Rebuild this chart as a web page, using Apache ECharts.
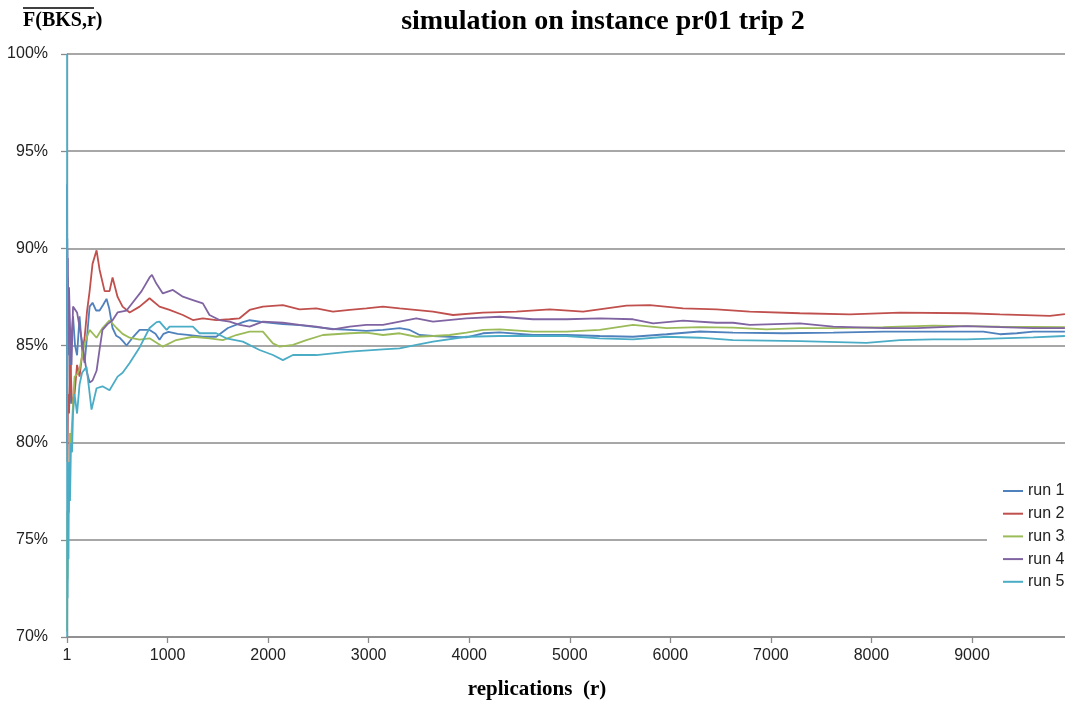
<!DOCTYPE html>
<html>
<head>
<meta charset="utf-8">
<title>simulation on instance pr01 trip 2</title>
<script src="https://cdn.jsdelivr.net/npm/echarts@6/dist/echarts.min.js"></script>
<style>
  html, body { margin: 0; padding: 0; background: #fff; }
  #main { width: 1065px; height: 703px; }
</style>
</head>
<body>
<div id="main"></div>
<script>
// running average F(BKS,r), [replication, percent]
var run1 = [[1,93.3],[2,86],[3,90.5],[5,85.5],[8,88.5],[12,84.5],[20,87],[30,82],[45,85.5],[60,86.5],[80,85],[100,84.5],[125,86.5],[150,84.8],[175,84.1],[200,85.5],[225,87.0],[254,87.2],[290,86.8],[324,86.8],[360,87.1],[393,87.4],[420,86.9],[453,85.9],[490,85.5],[523,85.4],[560,85.2],[592,85.0],[652,85.4],[722,85.8],[821,85.8],[880,85.6],[920,85.3],[960,85.6],[1010,85.7],[1100,85.6],[1200,85.55],[1350,85.45],[1484,85.45],[1600,85.9],[1750,86.2],[1816,86.3],[1950,86.2],[2147,86.1],[2313,86.05],[2479,85.95],[2645,85.85],[2811,85.8],[2977,85.75],[3142,85.8],[3308,85.89],[3408,85.8],[3507,85.54],[3640,85.49],[3806,85.45],[3972,85.42],[4137,85.63],[4303,85.68],[4634,85.54],[4967,85.54],[5298,85.49],[5629,85.45],[5962,85.58],[6293,85.72],[6624,85.66],[7123,85.63],[7620,85.66],[8118,85.71],[8615,85.71],[9112,85.71],[9278,85.58],[9445,85.63],[9609,85.71],[9924,85.71]];
var run2 = [[1,81],[3,85],[5,79],[10,82.5],[20,81.5],[35,84],[50,82],[75,82.5],[100,84],[125,83.4],[150,84.5],[175,85.4],[200,86.8],[225,87.8],[254,89.2],[294,89.9],[324,88.9],[374,87.8],[423,87.8],[453,88.5],[503,87.5],[553,87.0],[623,86.7],[722,87.0],[792,87.3],[821,87.43],[920,87.0],[1020,86.83],[1152,86.57],[1252,86.31],[1351,86.4],[1484,86.31],[1617,86.35],[1716,86.4],[1816,86.83],[1948,87.0],[2147,87.08],[2313,86.86],[2479,86.91],[2645,86.74],[2811,86.83],[2977,86.91],[3142,87.0],[3308,86.91],[3640,86.74],[3839,86.57],[4137,86.69],[4469,86.74],[4800,86.86],[5132,86.74],[5564,87.05],[5796,87.08],[6127,86.91],[6459,86.86],[6790,86.74],[7288,86.66],[7785,86.6],[8283,86.69],[8946,86.66],[9278,86.6],[9775,86.52],[9924,86.62]];
var run3 = [[1,70.3],[3,76.5],[6,73],[10,77],[20,76.4],[30,80.5],[40,80],[55,81.5],[75,83.4],[100,83.5],[125,83.8],[175,85.1],[225,85.8],[294,85.4],[353,85.9],[423,86.3],[493,85.9],[553,85.6],[623,85.4],[722,85.3],[821,85.37],[953,84.94],[1085,85.28],[1252,85.45],[1417,85.37],[1550,85.28],[1683,85.54],[1816,85.71],[1948,85.71],[2048,85.11],[2114,84.94],[2247,85.03],[2380,85.28],[2545,85.54],[2811,85.63],[2977,85.66],[3142,85.54],[3308,85.63],[3474,85.45],[3640,85.49],[3806,85.54],[3972,85.66],[4137,85.8],[4303,85.83],[4634,85.71],[4967,85.71],[5298,85.8],[5629,86.06],[5962,85.89],[6293,85.95],[6624,85.92],[6957,85.83],[7288,85.89],[7620,85.89],[8118,85.94],[8615,86.02],[9278,85.97],[9924,85.94]];
var run4 = [[1,80],[3,90],[5,86],[8,89.5],[12,85],[20,88],[30,86],[45,84],[60,87],[100,86.7],[150,85.2],[194,83.7],[225,83.1],[254,83.2],[294,83.7],[324,84.8],[353,85.8],[403,86.1],[453,86.3],[503,86.7],[592,86.8],[652,87.2],[742,87.8],[821,88.5],[845,88.63],[887,88.2],[953,87.68],[1053,87.86],[1152,87.51],[1252,87.34],[1351,87.17],[1417,86.57],[1517,86.31],[1617,86.23],[1716,86.06],[1816,85.97],[1948,86.23],[2147,86.17],[2313,86.06],[2479,85.97],[2645,85.83],[2811,85.97],[2977,86.06],[3142,86.06],[3308,86.23],[3474,86.4],[3640,86.23],[3972,86.4],[4303,86.48],[4634,86.35],[4967,86.35],[5298,86.4],[5629,86.35],[5829,86.14],[6127,86.28],[6459,86.17],[6624,86.17],[6790,86.06],[7288,86.14],[7620,85.97],[8118,85.89],[8449,85.89],[8946,86.0],[9609,85.89],[9924,85.89]];
var run5 = [[1,100],[2,70],[4,78],[6,72],[10,76],[15,74],[20,79],[30,77],[40,80],[50,79.5],[60,81.5],[75,82.5],[100,81.5],[125,83],[150,83.6],[194,83.9],[244,81.7],[294,82.8],[353,82.9],[423,82.7],[503,83.4],[553,83.6],[623,84.1],[722,84.9],[821,85.9],[891,86.2],[920,86.23],[991,85.8],[1020,85.97],[1252,85.97],[1318,85.63],[1484,85.63],[1584,85.37],[1749,85.2],[1915,84.77],[2048,84.51],[2147,84.25],[2247,84.51],[2479,84.51],[2811,84.68],[3142,84.8],[3308,84.85],[3474,85.03],[3640,85.2],[3972,85.45],[4303,85.49],[4634,85.49],[4967,85.49],[5298,85.37],[5629,85.32],[5962,85.45],[6293,85.4],[6624,85.28],[7288,85.23],[7951,85.14],[8283,85.28],[8614,85.32],[8946,85.32],[9278,85.37],[9609,85.42],[9924,85.49]];

var seriesNames = ['run 1', 'run 2', 'run 3', 'run 4', 'run 5'];
var seriesData = [run1, run2, run3, run4, run5];
var seriesColors = ['#4f81bd', '#c0504d', '#9bbb59', '#8064a2', '#4bacc6'];

var labelFont = 'Liberation Sans';
var serifFont = 'Liberation Serif';

var chart = echarts.init(document.getElementById('main'), null, { renderer: 'canvas' });

var series = seriesData.map(function (d, i) {
  return {
    name: seriesNames[i],
    type: 'line',
    data: d,
    symbol: 'none',
    animation: false,
    lineStyle: { color: seriesColors[i], width: 1.8 },
    itemStyle: { color: seriesColors[i] }
  };
});

chart.setOption({
  backgroundColor: '#fff',
  animation: false,
  title: {
    text: 'simulation on instance pr01 trip 2',
    left: 598,
    top: 3,
    textAlign: 'center',
    textStyle: { fontFamily: serifFont, fontWeight: 'bold', fontSize: 28, color: '#000' }
  },
  grid: { left: 67, right: 0, top: 54, bottom: 66 },
  legend: {
    orient: 'vertical',
    left: 987,
    top: 479,
    padding: [4, 0, 4, 16],
    backgroundColor: '#fff',
    icon: 'rect',
    itemWidth: 20,
    itemHeight: 2,
    itemGap: 6.7,
    data: seriesNames,
    textStyle: { fontFamily: labelFont, fontSize: 16, color: '#222' }
  },
  xAxis: {
    type: 'value',
    min: 0,
    max: 9925,
    interval: 1000,
    axisLine: { show: true, lineStyle: { color: '#8a8a8a', width: 1.5 } },
    axisTick: { show: true, length: 6, lineStyle: { color: '#8a8a8a', width: 1.3 } },
    splitLine: { show: false },
    axisLabel: {
      margin: 11,
      showMaxLabel: false,
      fontFamily: labelFont,
      fontSize: 16,
      color: '#222',
      formatter: function (v) { return v === 0 ? '1' : String(v); }
    }
  },
  yAxis: {
    type: 'value',
    min: 70,
    max: 100,
    interval: 5,
    axisLine: { show: true, lineStyle: { color: '#8a8a8a', width: 1.3 } },
    axisTick: { show: true, length: 6, lineStyle: { color: '#8a8a8a', width: 1.3 } },
    splitLine: { show: true, lineStyle: { color: '#8a8a8a', width: 1.5 } },
    axisLabel: {
      margin: 19,
      fontFamily: labelFont,
      fontSize: 16,
      color: '#222',
      formatter: '{value}%'
    }
  },
  graphic: [
    {
      type: 'text',
      left: 23,
      top: 11,
      style: { text: 'F(BKS,r)', fontFamily: serifFont, fontWeight: 'bold', fontSize: 20, fill: '#000' }
    },
    {
      type: 'line',
      shape: { x1: 23, y1: 8, x2: 94, y2: 8 },
      style: { stroke: '#000', lineWidth: 1.5 }
    },
    {
      type: 'text',
      x: 537,
      y: 690,
      style: {
        text: 'replications  (r)', fontFamily: serifFont, fontWeight: 'bold', fontSize: 21,
        fill: '#000', align: 'center', verticalAlign: 'middle'
      }
    }
  ],
  series: series
});
</script>
</body>
</html>
